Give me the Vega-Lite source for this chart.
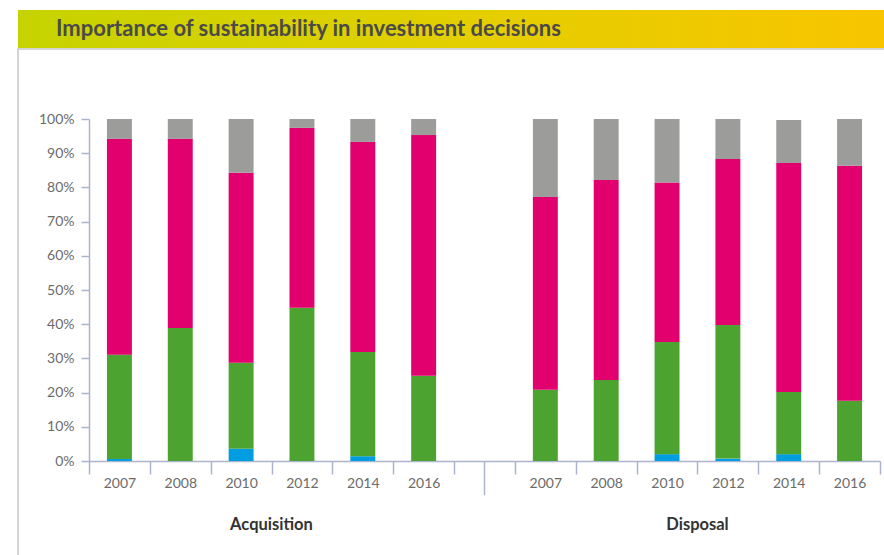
{
  "$schema": "https://vega.github.io/schema/vega-lite/v6.json",
  "padding": {"left": 17, "top": 10, "right": 0, "bottom": 0},
  "background": "white",
  "spacing": 0,
  "config": {"font": "Lato", "view": {"stroke": null}},
  "datasets": {
    "bars": [
      {"cat": "A2007", "series": "Decisive", "rank": 1, "value": 0.6},
      {"cat": "A2007", "series": "Important", "rank": 2, "value": 30.5},
      {"cat": "A2007", "series": "Of secondary importance", "rank": 3, "value": 63.1},
      {"cat": "A2007", "series": "Unimportant", "rank": 4, "value": 5.8},
      {"cat": "A2008", "series": "Decisive", "rank": 1, "value": 0},
      {"cat": "A2008", "series": "Important", "rank": 2, "value": 38.9},
      {"cat": "A2008", "series": "Of secondary importance", "rank": 3, "value": 55.3},
      {"cat": "A2008", "series": "Unimportant", "rank": 4, "value": 5.8},
      {"cat": "A2010", "series": "Decisive", "rank": 1, "value": 3.6},
      {"cat": "A2010", "series": "Important", "rank": 2, "value": 25.1},
      {"cat": "A2010", "series": "Of secondary importance", "rank": 3, "value": 55.6},
      {"cat": "A2010", "series": "Unimportant", "rank": 4, "value": 15.7},
      {"cat": "A2012", "series": "Decisive", "rank": 1, "value": 0},
      {"cat": "A2012", "series": "Important", "rank": 2, "value": 44.8},
      {"cat": "A2012", "series": "Of secondary importance", "rank": 3, "value": 52.6},
      {"cat": "A2012", "series": "Unimportant", "rank": 4, "value": 2.6},
      {"cat": "A2014", "series": "Decisive", "rank": 1, "value": 1.4},
      {"cat": "A2014", "series": "Important", "rank": 2, "value": 30.5},
      {"cat": "A2014", "series": "Of secondary importance", "rank": 3, "value": 61.4},
      {"cat": "A2014", "series": "Unimportant", "rank": 4, "value": 6.7},
      {"cat": "A2016", "series": "Decisive", "rank": 1, "value": 0},
      {"cat": "A2016", "series": "Important", "rank": 2, "value": 24.9},
      {"cat": "A2016", "series": "Of secondary importance", "rank": 3, "value": 70.4},
      {"cat": "A2016", "series": "Unimportant", "rank": 4, "value": 4.7},
      {"cat": "D2007", "series": "Decisive", "rank": 1, "value": 0},
      {"cat": "D2007", "series": "Important", "rank": 2, "value": 20.8},
      {"cat": "D2007", "series": "Of secondary importance", "rank": 3, "value": 56.4},
      {"cat": "D2007", "series": "Unimportant", "rank": 4, "value": 22.8},
      {"cat": "D2008", "series": "Decisive", "rank": 1, "value": 0},
      {"cat": "D2008", "series": "Important", "rank": 2, "value": 23.7},
      {"cat": "D2008", "series": "Of secondary importance", "rank": 3, "value": 58.5},
      {"cat": "D2008", "series": "Unimportant", "rank": 4, "value": 17.8},
      {"cat": "D2010", "series": "Decisive", "rank": 1, "value": 2.0},
      {"cat": "D2010", "series": "Important", "rank": 2, "value": 32.8},
      {"cat": "D2010", "series": "Of secondary importance", "rank": 3, "value": 46.6},
      {"cat": "D2010", "series": "Unimportant", "rank": 4, "value": 18.6},
      {"cat": "D2012", "series": "Decisive", "rank": 1, "value": 0.7},
      {"cat": "D2012", "series": "Important", "rank": 2, "value": 39.1},
      {"cat": "D2012", "series": "Of secondary importance", "rank": 3, "value": 48.5},
      {"cat": "D2012", "series": "Unimportant", "rank": 4, "value": 11.7},
      {"cat": "D2014", "series": "Decisive", "rank": 1, "value": 2.0},
      {"cat": "D2014", "series": "Important", "rank": 2, "value": 18.2},
      {"cat": "D2014", "series": "Of secondary importance", "rank": 3, "value": 66.9},
      {"cat": "D2014", "series": "Unimportant", "rank": 4, "value": 12.6},
      {"cat": "D2016", "series": "Decisive", "rank": 1, "value": 0},
      {"cat": "D2016", "series": "Important", "rank": 2, "value": 17.6},
      {"cat": "D2016", "series": "Of secondary importance", "rank": 3, "value": 68.7},
      {"cat": "D2016", "series": "Unimportant", "rank": 4, "value": 13.7}
    ],
    "groups": [{"group": "Acquisition"}, {"group": "Disposal"}]
  },
  "vconcat": [
    {
      "width": 867,
      "height": 38,
      "view": {"stroke": null},
      "title": {
        "text": "Importance of sustainability in investment decisions",
        "anchor": "start",
        "frame": "group",
        "orient": "bottom",
        "offset": -12,
        "dx": 38,
        "baseline": "alphabetic",
        "fontSize": 22,
        "fontWeight": "bold",
        "color": "#4a4a4a",
        "font": "Lato"
      },
      "data": {"values": [{}]},
      "mark": {
        "type": "rect",
        "fill": {
          "gradient": "linear",
          "x1": 0, "y1": 0, "x2": 1, "y2": 0,
          "stops": [
            {"offset": 0, "color": "#c6d300"},
            {"offset": 0.5, "color": "#e3cf00"},
            {"offset": 1, "color": "#f8c500"}
          ]
        }
      },
      "encoding": {}
    },
    {
      "width": 867,
      "height": 507,
      "view": {"stroke": "#c6c6c6", "strokeWidth": 1.5},
      "layer": [
        {
          "data": {"name": "bars"},
          "mark": {"type": "bar", "width": {"band": 0.41}},
          "encoding": {
            "x": {
              "field": "cat",
              "type": "nominal",
              "scale": {
                "domain": ["A2007", "A2008", "A2010", "A2012", "A2014", "A2016", "gap", "D2007", "D2008", "D2010", "D2012", "D2014", "D2016"],
                "range": [71, 862],
                "paddingInner": 0,
                "paddingOuter": 0
              },
              "axis": {
                "orient": "bottom",
                "offset": -95,
                "tickBand": "extent",
                "tickSize": 13,
                "labelPadding": 2,
                "labelAngle": 0,
                "labelExpr": "isString(datum.value) && datum.value != 'gap' ? substring(datum.value, 1) : ''",
                "domainColor": "#aab4cc",
                "tickColor": "#aab4cc",
                "domainWidth": 1.5,
                "tickWidth": 1.5,
                "labelColor": "#6b6b6b",
                "labelFontSize": 14,
                "labelFont": "Lato",
                "grid": false,
                "title": null
              }
            },
            "y": {
              "field": "value",
              "type": "quantitative",
              "stack": "zero",
              "scale": {"domain": [0, 100], "range": [412, 70], "nice": false, "zero": false},
              "axis": {
                "orient": "left",
                "offset": -71,
                "values": [0, 10, 20, 30, 40, 50, 60, 70, 80, 90, 100],
                "labelExpr": "datum.value + '%'",
                "tickSize": 8,
                "labelPadding": 7,
                "domainColor": "#aab4cc",
                "tickColor": "#aab4cc",
                "domainWidth": 1.5,
                "tickWidth": 1.5,
                "labelColor": "#6b6b6b",
                "labelFontSize": 14,
                "labelFont": "Lato",
                "grid": false,
                "title": null
              }
            },
            "color": {
              "field": "series",
              "type": "nominal",
              "scale": {
                "domain": ["Decisive", "Important", "Of secondary importance", "Unimportant"],
                "range": ["#009ee0", "#4ca330", "#e2006f", "#9c9c9b"]
              },
              "legend": null
            },
            "order": {"field": "rank", "type": "quantitative"}
          }
        },
        {
          "data": {"values": [{}]},
          "mark": {"type": "rule", "color": "#aab4cc", "strokeWidth": 1.5},
          "encoding": {
            "x": {
              "datum": "gap",
              "type": "nominal",
              "scale": {
                "domain": ["A2007", "A2008", "A2010", "A2012", "A2014", "A2016", "gap", "D2007", "D2008", "D2010", "D2012", "D2014", "D2016"],
                "range": [71, 862],
                "paddingInner": 0,
                "paddingOuter": 0
              },
              "axis": null
            },
            "y": {"datum": 0, "type": "quantitative", "scale": {"domain": [0, 100], "range": [412, 70], "nice": false, "zero": false}},
            "y2": {"datum": -10}
          }
        },
        {
          "data": {"name": "groups"},
          "mark": {"type": "text", "fontSize": 16.5, "fontWeight": "bold", "color": "#333333", "font": "Lato", "baseline": "middle", "align": "center"},
          "encoding": {
            "x": {
              "field": "group",
              "type": "nominal",
              "scale": {"domain": ["Acquisition", "Disposal"], "range": [40.5, 892.5], "paddingInner": 0.2},
              "axis": null
            },
            "y": {"datum": -18.7, "type": "quantitative", "scale": {"domain": [0, 100], "range": [412, 70], "nice": false, "zero": false}},
            "text": {"field": "group"}
          }
        }
      ],
      "resolve": {"scale": {"x": "independent"}, "axis": {"x": "independent"}}
    }
  ]
}
